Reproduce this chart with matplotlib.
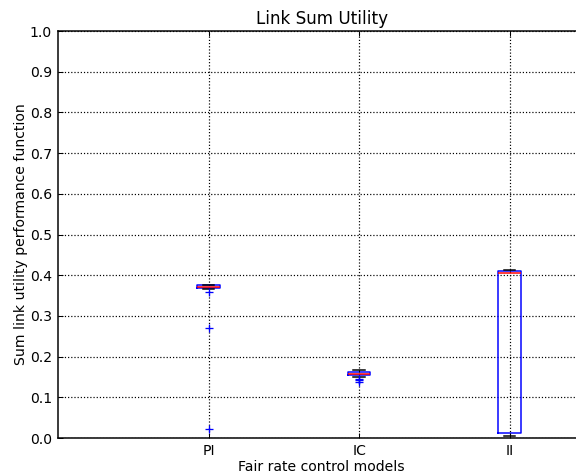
import matplotlib
matplotlib.use("Agg")
import matplotlib.pyplot as plt

labels = ["PI", "IC", "II"]
medians = [0.372, 0.158, 0.406]
q1 = [0.369, 0.155, 0.012]
q3 = [0.375, 0.162, 0.411]
whis_lo = [0.366, 0.150, 0.006]
whis_hi = [0.377, 0.166, 0.414]
outliers = [[0.358, 0.270, 0.022], [0.146, 0.142, 0.138], []]

stats = []
for i in range(len(labels)):
    stats.append(dict(label=labels[i], med=medians[i], q1=q1[i], q3=q3[i],
                      whislo=whis_lo[i], whishi=whis_hi[i], fliers=outliers[i]))

plt.rcParams["font.size"] = 14
fig = plt.figure(figsize=(8, 475 / 72), dpi=72)
ax = fig.add_axes([58 / 576, 37 / 475, 527 / 576, 407 / 475])

ax.bxp(stats, positions=[1, 2, 3], widths=0.15,
       boxprops=dict(color="blue", linewidth=1.5),
       medianprops=dict(color="red", linewidth=1.5),
       whiskerprops=dict(color="black", linestyle="--", linewidth=1),
       capprops=dict(color="black", linewidth=1.5),
       flierprops=dict(marker="+", markeredgecolor="blue", markersize=8,
                       markeredgewidth=1.3, linestyle="none"))

ax.set_xlim(0, 3.5)
ax.set_ylim(0, 1.0)
ax.set_yticks([i / 10 for i in range(11)])
ax.set_xticks([1, 2, 3])
ax.set_xticklabels(labels)
ax.tick_params(direction="in", length=5, width=1, top=True, right=True, pad=6)
ax.grid(True, color="black", linestyle=":", linewidth=1.2)
for s in ax.spines.values():
    s.set_linewidth(1.5)
ax.set_title("Link Sum Utility", fontsize=16.8, pad=7)
ax.set_xlabel("Fair rate control models", labelpad=2)
ax.set_ylabel("Sum link utility performance function", labelpad=2)

fig.savefig("out.png", dpi=72)
